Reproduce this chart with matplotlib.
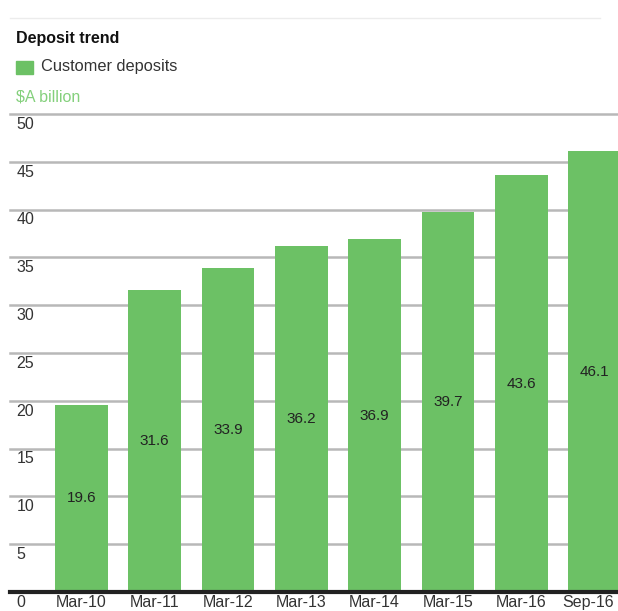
import matplotlib
matplotlib.use("Agg")
import matplotlib.pyplot as plt
from matplotlib.patches import Rectangle
from matplotlib.lines import Line2D
import matplotlib.transforms as mtransforms

plt.rcParams['font.family'] = ['Liberation Sans', 'DejaVu Sans']

categories = ["Mar-10", "Mar-11", "Mar-12", "Mar-13", "Mar-14", "Mar-15", "Mar-16", "Sep-16"]
deposits = [19.6, 31.6, 33.9, 36.2, 36.9, 39.7, 43.6, 46.1]
yticks = [0, 5, 10, 15, 20, 25, 30, 35, 40, 45, 50]

GREEN = "#6cc165"
W, H = 618, 611
fig = plt.figure(figsize=(W / 100, H / 100), dpi=100)

def fx(px):
    return px / W

def fy(py):
    return 1 - py / H

ax = fig.add_axes([fx(10), fy(592), 1 - fx(10), fy(114) - fy(592)])
x = list(range(len(categories)))
ax.bar(x, deposits, width=0.72, color=GREEN, zorder=2)
ax.set_xlim(-0.975, 7.32)
ax.set_ylim(0, 50)
for s in ax.spines.values():
    s.set_visible(False)
ax.set_yticks([])
ax.set_xticks(x)
ax.set_xticklabels(categories, fontsize=11.5, color="#333333")
ax.tick_params(axis='x', length=0, pad=2.5)
labels = ax.get_xticklabels()
labels[-1].set_horizontalalignment('right')
labels[-1].set_transform(labels[-1].get_transform() + mtransforms.ScaledTranslation(14 / 72, 0, fig.dpi_scale_trans))

for v in yticks[1:]:
    ax.axhline(v, color="#b8b8b8", lw=1.8, zorder=1, clip_on=False)
ax.axhline(0, color="#222222", lw=3, zorder=3, clip_on=False)

trans = mtransforms.blended_transform_factory(ax.transAxes, ax.transData)
shift = mtransforms.ScaledTranslation(3 / 72, -2 / 72, fig.dpi_scale_trans)
for v in yticks:
    ax.text(0.004, v, str(v), transform=trans + shift, va='top', ha='left', fontsize=11.5,
            color="#333333")

for xi, v in zip(x, deposits):
    ax.text(xi, v / 2, f"{v}", ha='center', va='center', fontsize=11, color="#222222", zorder=4)

# header
fig.add_artist(Line2D([fx(10), fx(600)], [fy(18), fy(18)], color="#ececec", lw=1))
fig.text(fx(16), fy(38), "Deposit trend", fontsize=11.5, fontweight='bold', color="#111111", va='center', ha='left')
fig.add_artist(Rectangle((fx(16), fy(74)), fx(17), fy(61) - fy(74), color=GREEN, transform=fig.transFigure))
fig.text(fx(41), fy(67), "Customer deposits", fontsize=11.8, color="#333333", va='center', ha='left')
fig.text(fx(16), fy(97), "\\$A billion", fontsize=11.5, color="#84d07c", va='center', ha='left')

fig.savefig("out.png", dpi=100)
